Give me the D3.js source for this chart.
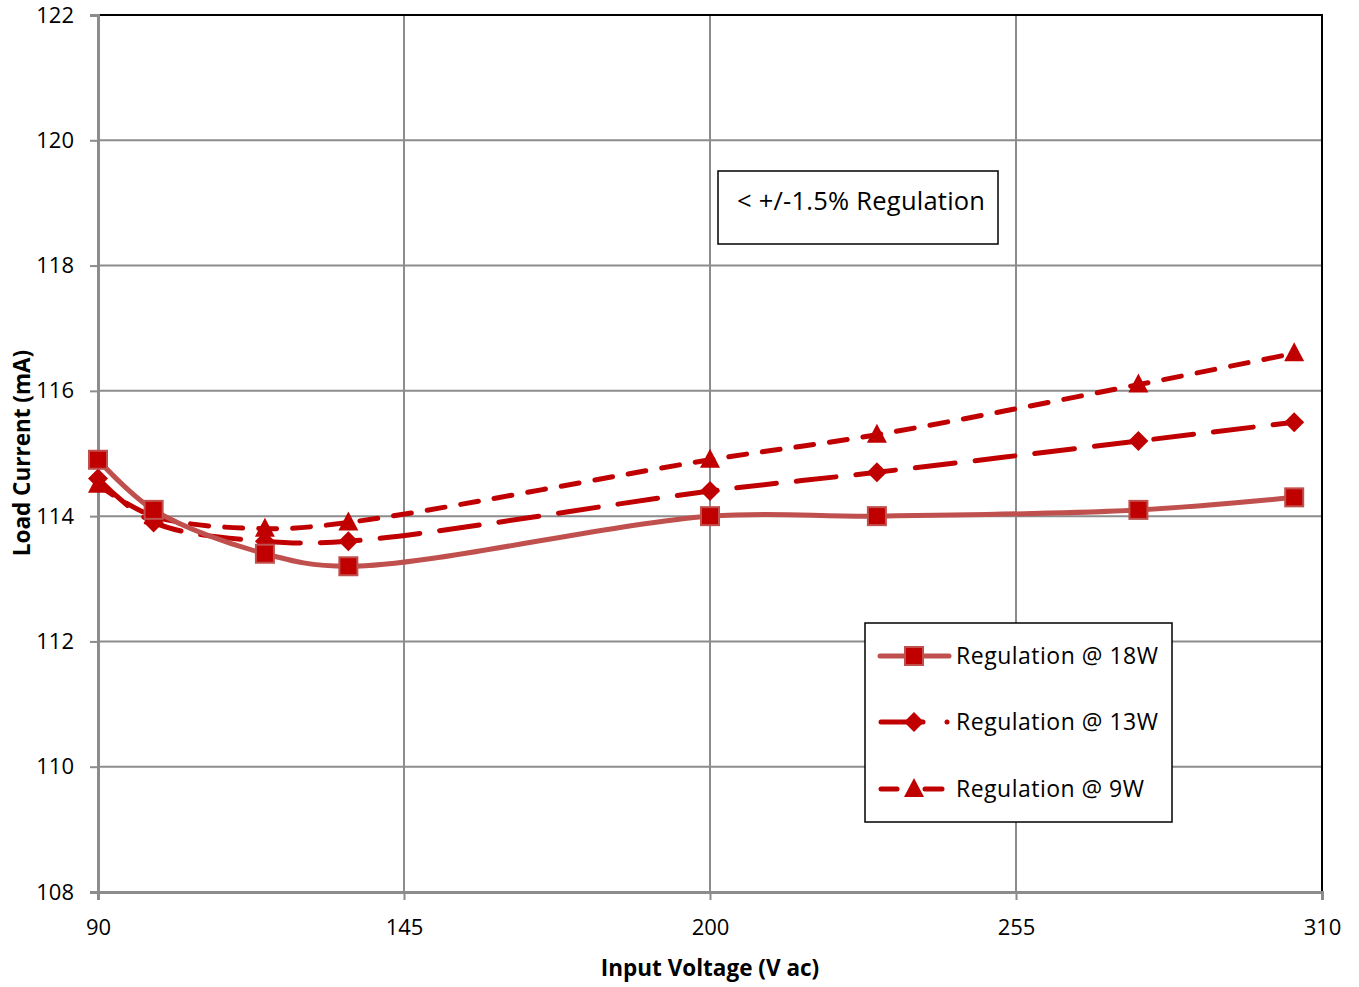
<!DOCTYPE html>
<html><head><meta charset="utf-8">
<script src="https://cdn.jsdelivr.net/npm/d3@7"></script>
<style>body{margin:0;background:#fff}svg{display:block}text{font-family:"Open Sans","Noto Sans",sans-serif}</style>
</head><body>
<svg id="c" width="1359" height="987"></svg>
<script>
const voltages = [90, 100, 120, 135, 200, 230, 277, 305];
const reg18W = [114.9, 114.1, 113.4, 113.2, 114.0, 114.0, 114.1, 114.3];
const reg13W = [114.6, 113.9, 113.6, 113.6, 114.4, 114.7, 115.2, 115.5];
const reg9W  = [114.5, 114.0, 113.8, 113.9, 114.9, 115.3, 116.1, 116.6];
const xTicks = [90, 145, 200, 255, 310];
const yTicks = [108, 110, 112, 114, 116, 118, 120, 122];
const seriesNames = ["Regulation @ 18W", "Regulation @ 13W", "Regulation @ 9W"];

const svg = d3.select("#c");
const L = 98, R = 1322, T = 15, B = 892;
const x = d3.scaleLinear().domain([90, 310]).range([L, R]);
const y = d3.scaleLinear().domain([108, 122]).range([B, T]);
const grid = "#8c8c8c";

svg.append("g").selectAll("line").data(yTicks.slice(1)).join("line")
  .attr("x1", L).attr("x2", R).attr("y1", d => y(d)).attr("y2", d => y(d))
  .attr("stroke", grid).attr("stroke-width", 2);
svg.append("g").selectAll("line").data(xTicks.slice(1)).join("line")
  .attr("y1", T).attr("y2", B).attr("x1", d => x(d)).attr("x2", d => x(d))
  .attr("stroke", grid).attr("stroke-width", 2);
svg.append("path").attr("d", `M${L},${T}H${R}V${B}`).attr("fill", "none").attr("stroke", "#000").attr("stroke-width", 2);

const xAxis = d3.axisBottom(x).tickValues(xTicks).tickSize(8).tickPadding(19).tickFormat(d3.format("d"));
const yAxis = d3.axisLeft(y).tickValues(yTicks).tickSize(8).tickPadding(16).tickFormat(d3.format("d"));
const gx = svg.append("g").attr("transform", `translate(0,${B})`).call(xAxis);
const gy = svg.append("g").attr("transform", `translate(${L},0)`).call(yAxis);
[gx, gy].forEach(g => {
  g.select(".domain").attr("stroke", grid).attr("stroke-width", 3);
  g.selectAll(".tick line").attr("stroke", grid).attr("stroke-width", 2);
  g.selectAll(".tick text").attr("fill", "#000").style("font-size", "22px").style("font-family", '"Open Sans",sans-serif');
});

svg.append("text").attr("x", x(200)).attr("y", 976).attr("text-anchor", "middle")
  .style("font-size", "22.5px").style("font-weight", "bold").text("Input Voltage (V ac)");
svg.append("text").attr("transform", `translate(30,453) rotate(-90)`).attr("text-anchor", "middle")
  .style("font-size", "22.5px").style("font-weight", "bold").text("Load Current (mA)");

const line = d3.line().x(d => x(d[0])).y(d => y(d[1])).curve(d3.curveCatmullRom.alpha(0.5));
const series = [
  {name: seriesNames[0], vals: reg18W, color: "#C0504D", dash: null, marker: "square"},
  {name: seriesNames[1], vals: reg13W, color: "#C00000", dash: "40,20", marker: "diamond"},
  {name: seriesNames[2], vals: reg9W, color: "#C00000", dash: "18,16", marker: "triangle"}
];
function marker(g, type, cx, cy) {
  if (type === "square") g.append("rect").attr("x", cx - 9).attr("y", cy - 9).attr("width", 18).attr("height", 18)
    .attr("fill", "#C00000").attr("stroke", "#C0504D").attr("stroke-width", 2);
  else if (type === "diamond") g.append("path").attr("d", `M${cx},${cy-10}L${cx+10},${cy}L${cx},${cy+10}L${cx-10},${cy}Z`).attr("fill", "#C00000");
  else g.append("path").attr("d", `M${cx},${cy-11}L${cx+10},${cy+8}L${cx-10},${cy+8}Z`).attr("fill", "#C00000");
}
series.slice().reverse().forEach(s => {
  const pts = voltages.map((v, i) => [v, s.vals[i]]);
  svg.append("path").attr("d", line(pts)).attr("fill", "none").attr("stroke", s.color)
    .attr("stroke-width", 5).attr("stroke-linecap", "round").attr("stroke-dasharray", s.dash);
  const mg = svg.append("g");
  pts.forEach(p => marker(mg, s.marker, x(p[0]), y(p[1])));
});

svg.append("rect").attr("x", 718).attr("y", 171).attr("width", 280).attr("height", 73).attr("fill", "#fff").attr("stroke", "#000").attr("stroke-width", 1.5);
svg.append("text").attr("x", 737).attr("y", 210).style("font-size", "25.5px").attr("textLength", 248).text("< +/-1.5% Regulation");

const lg = svg.append("g");
lg.append("rect").attr("x", 865).attr("y", 623).attr("width", 307).attr("height", 199).attr("fill", "#fff").attr("stroke", "#000").attr("stroke-width", 1.5);
const ly = [656, 722, 789];
const lw = [202, 202, 188];
series.forEach((s, i) => {
  if (i === 0) lg.append("line").attr("x1", 880).attr("x2", 949).attr("y1", ly[i]).attr("y2", ly[i]).attr("stroke", s.color).attr("stroke-width", 5).attr("stroke-linecap", "round");
  else if (i === 1) {
    lg.append("line").attr("x1", 881).attr("x2", 923).attr("y1", ly[i]).attr("y2", ly[i]).attr("stroke", s.color).attr("stroke-width", 5).attr("stroke-linecap", "round");
    lg.append("circle").attr("cx", 947).attr("cy", ly[i]).attr("r", 2.5).attr("fill", s.color);
  } else {
    lg.append("line").attr("x1", 881).attr("x2", 897).attr("y1", ly[i]).attr("y2", ly[i]).attr("stroke", s.color).attr("stroke-width", 5).attr("stroke-linecap", "round");
    lg.append("line").attr("x1", 925).attr("x2", 942).attr("y1", ly[i]).attr("y2", ly[i]).attr("stroke", s.color).attr("stroke-width", 5).attr("stroke-linecap", "round");
  }
  marker(lg, s.marker, 914, ly[i]);
  lg.append("text").attr("x", 956).attr("y", ly[i] + 8).style("font-size", "23px").attr("textLength", lw[i]).text(s.name);
});
</script>
</body></html>
